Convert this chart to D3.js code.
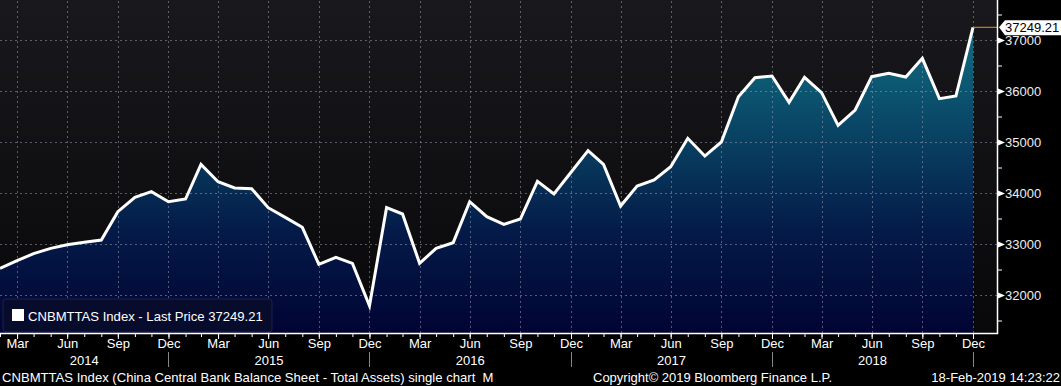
<!DOCTYPE html>
<html>
<head>
<meta charset="utf-8">
<script src="https://d3js.org/d3.v7.min.js"></script>
<style>
  body { margin: 0; background: #000; }
  svg { display: block; font-family: "Liberation Sans", Arial, sans-serif; }
</style>
</head>
<body>
<div id="chart"></div>
<script>
// monthly observations (month-end), Feb 2014 .. Dec 2018
var months = [
  "2014-02","2014-03","2014-04","2014-05","2014-06","2014-07","2014-08","2014-09","2014-10","2014-11","2014-12",
  "2015-01","2015-02","2015-03","2015-04","2015-05","2015-06","2015-07","2015-08","2015-09","2015-10","2015-11","2015-12",
  "2016-01","2016-02","2016-03","2016-04","2016-05","2016-06","2016-07","2016-08","2016-09","2016-10","2016-11","2016-12",
  "2017-01","2017-02","2017-03","2017-04","2017-05","2017-06","2017-07","2017-08","2017-09","2017-10","2017-11","2017-12",
  "2018-01","2018-02","2018-03","2018-04","2018-05","2018-06","2018-07","2018-08","2018-09","2018-10","2018-11","2018-12"
];
var values = [
  32523, 32673, 32810, 32915, 32986, 33033, 33078, 33634, 33915, 34026, 33830,
  33882, 34562, 34222, 34098, 34085, 33712, 33523, 33327, 32602, 32739, 32621, 31790,
  33712, 33588, 32621, 32915, 33026, 33830, 33535, 33386, 33490, 34229, 33980, 34406,
  34830, 34562, 33745, 34137, 34255, 34516, 35072, 34725, 35000, 35888, 36261, 36294,
  35778, 36268, 35967, 35327, 35627, 36281, 36347, 36275, 36641, 35850, 35902, 37249.21
];
var yTicks = [32000, 33000, 34000, 35000, 36000, 37000];
var yMinor = [31500, 32500, 33500, 34500, 35500, 36500, 37500];
var quarterMonths = [2, 5, 8, 11]; // Mar Jun Sep Dec
var years = ["2014", "2015", "2016", "2017", "2018"];
var lastPrice = "37249.21";
var legendText = "CNBMTTAS Index - Last Price " + lastPrice;
var footLeft = "CNBMTTAS Index (China Central Bank Balance Sheet - Total Assets) single chart  M";
var footMid = "Copyright\u00a9 2019 Bloomberg Finance L.P.";
var footRight = "18-Feb-2019 14:23:22";

var W = 1061, H = 386;
var plotW = 997, plotH = 333;

var parseM = d3.timeParse("%Y-%m");
function monthEnd(m) {
  return d3.timeDay.offset(d3.timeMonth.offset(parseM(m), 1), -1);
}

var data = months.map(function(m, i) { return { date: monthEnd(m), value: values[i] }; });

var x = d3.scaleTime()
  .domain([data[0].date, data[data.length - 1].date])
  .range([0, 973]);
var y = d3.scaleLinear().domain([32000, 37000]).range([295, 40]);

var svg = d3.select("#chart").append("svg").attr("width", W).attr("height", H);
svg.append("rect").attr("width", W).attr("height", H).attr("fill", "#000");

var defs = svg.append("defs");
var bg = defs.append("linearGradient").attr("id", "bg")
  .attr("gradientUnits", "userSpaceOnUse").attr("x1", 0).attr("y1", 0).attr("x2", 0).attr("y2", plotH);
bg.append("stop").attr("offset", 0).attr("stop-color", "#19191d");
bg.append("stop").attr("offset", 1).attr("stop-color", "#08080a");

var fillG = defs.append("linearGradient").attr("id", "areaFill")
  .attr("gradientUnits", "userSpaceOnUse").attr("x1", 0).attr("y1", 0).attr("x2", 0).attr("y2", plotH);
fillG.append("stop").attr("offset", 0).attr("stop-color", "#117a8a");
fillG.append("stop").attr("offset", 0.35).attr("stop-color", "#0a4a68");
fillG.append("stop").attr("offset", 0.7).attr("stop-color", "#041a48");
fillG.append("stop").attr("offset", 1).attr("stop-color", "#010433");

defs.append("clipPath").attr("id", "clip").append("rect").attr("width", plotW).attr("height", plotH);

svg.append("rect").attr("width", plotW).attr("height", plotH).attr("fill", "url(#bg)");

var plot = svg.append("g").attr("clip-path", "url(#clip)");

var area = d3.area()
  .x(function(d) { return x(d.date); })
  .y0(plotH)
  .y1(function(d) { return y(d.value); });
var line = d3.line()
  .x(function(d) { return x(d.date); })
  .y(function(d) { return y(d.value); });

plot.append("path").datum(data).attr("d", area).attr("fill", "url(#areaFill)");

// grid lines
var quarterDates = data.filter(function(d) { return quarterMonths.indexOf(d.date.getMonth()) >= 0; })
  .map(function(d) { return d.date; });

plot.append("g").attr("class", "grid")
  .attr("transform", "translate(0," + plotH + ")")
  .call(d3.axisBottom(x).tickValues(quarterDates).tickSize(-plotH).tickFormat(""))
  .call(function(g) { g.select(".domain").remove(); });
plot.append("g").attr("class", "grid")
  .call(d3.axisRight(y).tickValues(yTicks).tickSize(plotW).tickFormat(""))
  .call(function(g) { g.select(".domain").remove(); });
plot.selectAll(".grid line")
  .attr("stroke", "#9a9aae").attr("stroke-opacity", 0.55)
  .attr("stroke-dasharray", "2,3").attr("shape-rendering", "crispEdges");

plot.append("path").datum(data).attr("d", line)
  .attr("fill", "none").attr("stroke", "#fff").attr("stroke-width", 3)
  .attr("stroke-linejoin", "miter");

// last value marker line
var last = data[data.length - 1];
svg.append("line")
  .attr("x1", x(last.date)).attr("x2", plotW)
  .attr("y1", y(last.value)).attr("y2", y(last.value))
  .attr("stroke", "#e8961e").attr("stroke-width", 1);

// legend
var leg = svg.append("g").attr("transform", "translate(3,299)");
leg.append("rect").attr("width", 269).attr("height", 33).attr("rx", 3)
  .attr("fill", "#080c2c").attr("stroke", "#1c2146");
leg.append("rect").attr("x", 9).attr("y", 10).attr("width", 12).attr("height", 12).attr("fill", "#fff");
leg.append("text").attr("x", 25).attr("y", 21.5).attr("fill", "#fff").attr("font-size", 13.1).text(legendText);

// axes frame
svg.append("line").attr("x1", plotW + 0.5).attr("x2", plotW + 0.5).attr("y1", 0).attr("y2", plotH + 1)
  .attr("stroke", "#fff").attr("stroke-width", 1.5);
svg.append("line").attr("x1", 0).attr("x2", plotW + 1).attr("y1", plotH + 0.5).attr("y2", plotH + 0.5)
  .attr("stroke", "#fff").attr("stroke-width", 1.5);

// right axis
var yAxis = svg.append("g").attr("transform", "translate(" + (plotW + 1) + ",0)")
  .call(d3.axisRight(y).tickValues(yTicks).tickSize(0).tickPadding(7).tickFormat(d3.format("d")));
yAxis.select(".domain").remove();
yAxis.selectAll("text").attr("fill", "#eee").attr("font-size", 13).attr("font-family", "Liberation Sans, Arial, sans-serif");
yAxis.selectAll(".tick").append("path").attr("d", "M0,-3L0,3L7,0Z").attr("fill", "#fff");

svg.append("g").attr("transform", "translate(" + (plotW + 1) + ",0)")
  .call(d3.axisRight(y).tickValues(yMinor).tickSize(4).tickFormat(""))
  .call(function(g) { g.select(".domain").remove(); g.selectAll("line").attr("stroke", "#fff"); });

// last price tag
var ly = y(last.value);
svg.append("path")
  .attr("d", "M" + 999 + "," + ly + "L1005," + (ly - 7) + "L1061," + (ly - 7) + "L1061," + (ly + 8) + "L1005," + (ly + 8) + "Z")
  .attr("fill", "#fff");
svg.append("text").attr("x", 1005).attr("y", ly + 5).attr("fill", "#000").attr("font-size", 13).text(lastPrice);

// bottom axis: month ticks + quarter labels
svg.append("g").attr("transform", "translate(0," + (plotH + 1) + ")")
  .call(d3.axisBottom(x).tickValues(data.map(function(d) { return d.date; })).tickSize(3).tickFormat(""))
  .call(function(g) { g.select(".domain").remove(); g.selectAll("line").attr("stroke", "#fff"); });

var xAxis = svg.append("g").attr("transform", "translate(0," + (plotH + 1) + ")")
  .call(d3.axisBottom(x).tickValues(quarterDates).tickSize(5).tickPadding(0).tickFormat(d3.timeFormat("%b")));
xAxis.select(".domain").remove();
xAxis.selectAll("line").attr("stroke", "#fff");
xAxis.selectAll("text").attr("fill", "#fff").attr("font-size", 13).attr("font-family", "Liberation Sans, Arial, sans-serif");

// year labels between December separators
var decs = quarterDates.filter(function(d) { return d.getMonth() == 11; });
var bounds = [0].concat(decs.map(function(d) { return x(d); }));
years.forEach(function(yr, i) {
  svg.append("text").attr("x", (bounds[i] + bounds[i + 1]) / 2).attr("y", 365)
    .attr("text-anchor", "middle").attr("fill", "#fff").attr("font-size", 13).text(yr);
});
decs.forEach(function(d) {
  svg.append("line").attr("x1", Math.round(x(d)) + 0.5).attr("x2", Math.round(x(d)) + 0.5)
    .attr("y1", 352).attr("y2", 367).attr("stroke", "#888");
});

// footer
svg.append("text").attr("x", 2).attr("y", 382).attr("fill", "#fff").attr("font-size", 13.1)
  .style("white-space", "pre").text(footLeft);
svg.append("text").attr("x", 593).attr("y", 382).attr("fill", "#fff").attr("font-size", 13).text(footMid);
svg.append("text").attr("x", 1060).attr("y", 382).attr("text-anchor", "end").attr("fill", "#fff").attr("font-size", 13).text(footRight);
</script>
</body>
</html>
